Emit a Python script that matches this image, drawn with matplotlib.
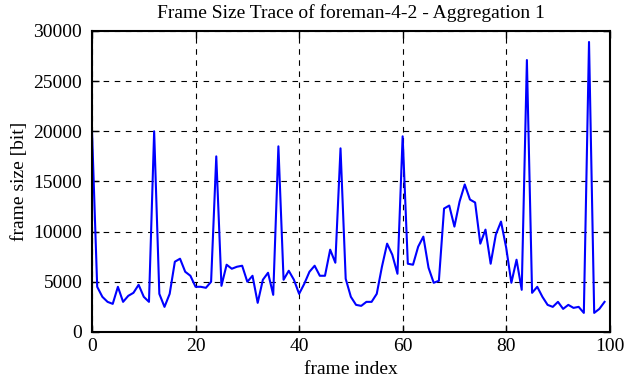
import matplotlib
matplotlib.use("Agg")
import matplotlib.pyplot as plt

# frame sizes in bit
frame_index = list(range(100))
frame_size = [
    20000, 4500, 3500, 3000, 2800, 4500, 3000, 3600, 3900, 4700,
    3500, 3000, 20000, 3800, 2500, 3800, 7000, 7300, 6000, 5600,
    4500, 4500, 4400, 5000, 17500, 4600, 6700, 6300, 6500, 6600,
    5000, 5600, 2900, 5200, 5900, 3700, 18500, 5200, 6100, 5200,
    3800, 4800, 6000, 6600, 5600, 5600, 8200, 6900, 18300, 5300,
    3500, 2700, 2600, 3000, 3000, 3800, 6500, 8800, 7700, 5800,
    19500, 6800, 6700, 8500, 9500, 6400, 4900, 5100, 12300, 12600,
    10500, 13000, 14700, 13200, 12900, 8800, 10200, 6800, 9700, 11000,
    8400, 4900, 7200, 4200, 27100, 3900, 4500, 3500, 2700, 2500,
    3000, 2300, 2700, 2400, 2500, 1900, 28900, 1900, 2300, 3000,
]

plt.rcParams["font.family"] = ["Liberation Serif", "DejaVu Serif"]
plt.rcParams["font.size"] = 14

fig = plt.figure(figsize=(6.26, 3.82), dpi=100)
ax = fig.add_axes([0.147, 0.131, 0.827, 0.788])

ax.plot(frame_index, frame_size, color="#0000ff", lw=1.5)

ax.set_xlim(0, 100)
ax.set_ylim(0, 30000)
ax.set_xticks(range(0, 101, 20))
ax.set_yticks(range(0, 30001, 5000))
ax.grid(True, color="black", linestyle=(0, (5, 5)), linewidth=0.8)
ax.tick_params(direction="in", length=5, width=1, top=True, right=True, labelsize=14, pad=7)
ax.tick_params(axis="x", pad=4)
for s in ax.spines.values():
    s.set_linewidth(1.5)

ax.set_xlabel("frame index", fontsize=14, labelpad=5)
ax.set_ylabel("frame size [bit]", fontsize=14, labelpad=4)
ax.set_title("Frame Size Trace of foreman-4-2 - Aggregation 1", fontsize=14, pad=9)

fig.savefig("out.png", dpi=100)
